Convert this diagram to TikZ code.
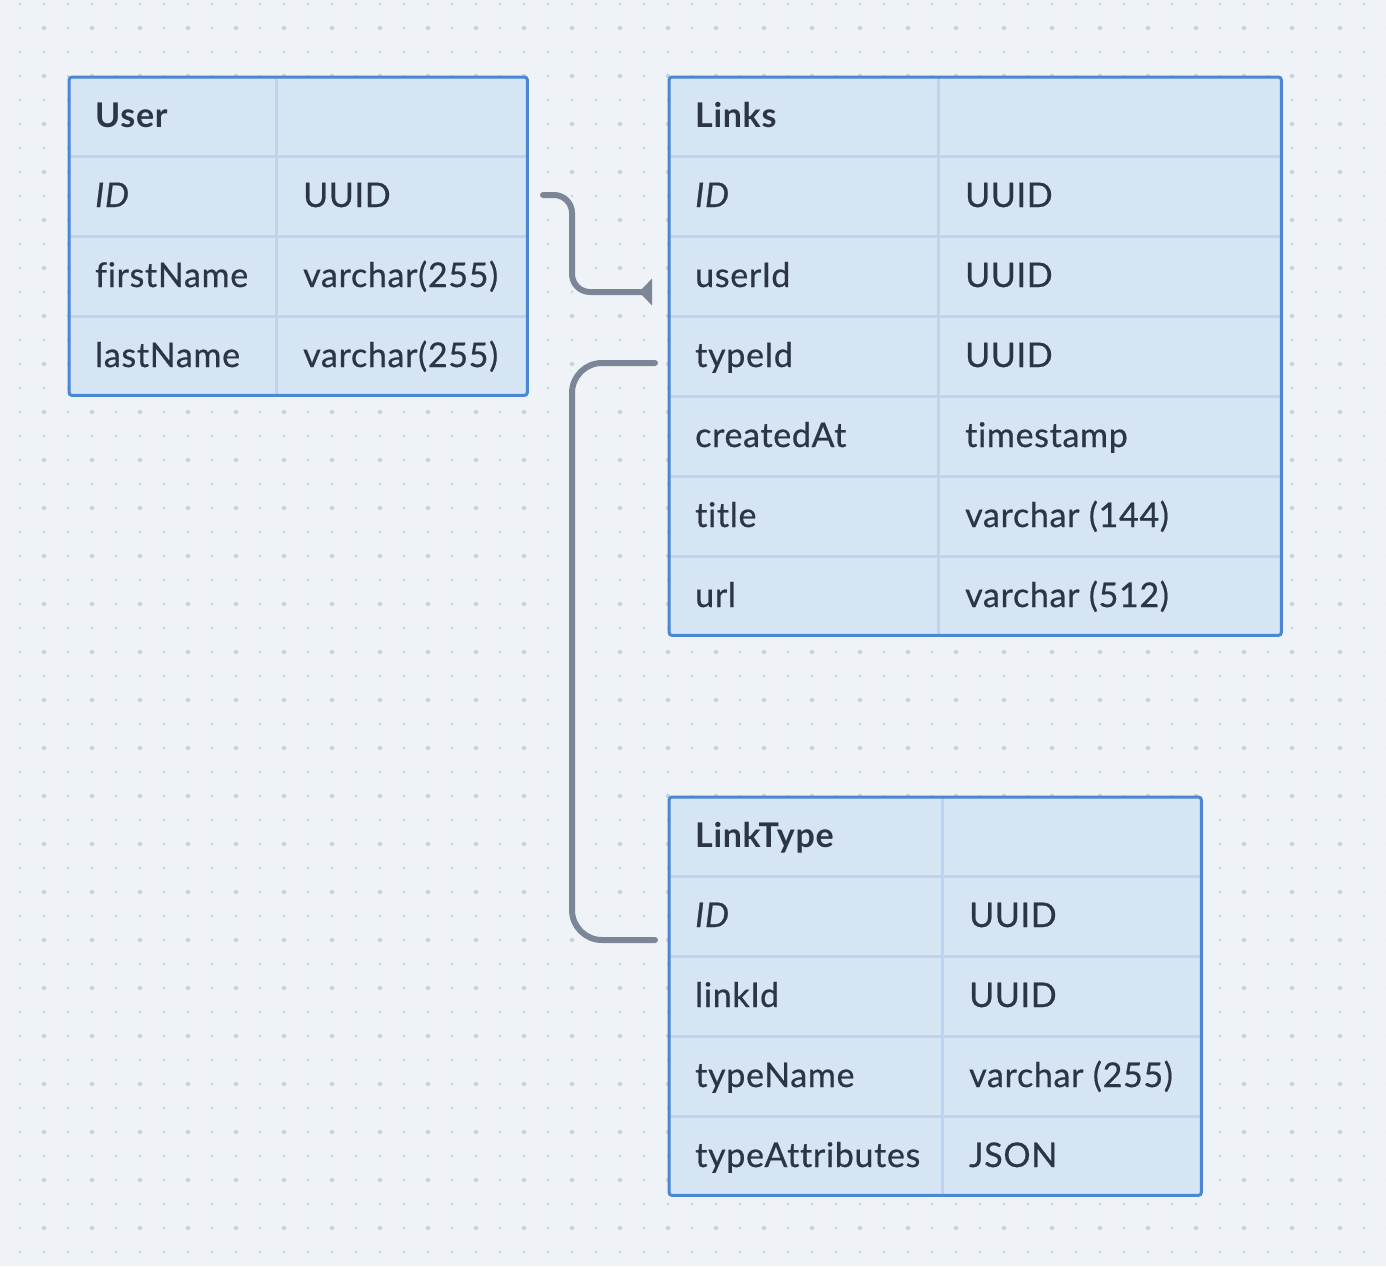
\documentclass[tikz,border=0pt]{standalone}
\usepackage{fontspec}
\setmainfont{Lato}[Ligatures=NoCommon, LetterSpace=2.0,
  UprightFeatures={FakeBold=0.6}, ItalicFeatures={FakeBold=0.6}]
\usetikzlibrary{arrows.meta}
\definecolor{bgc}{HTML}{EFF3F7}
\definecolor{dotc}{HTML}{C9D1DB}
\definecolor{tfill}{HTML}{D6E5F4}
\definecolor{tborder}{HTML}{4A87D5}
\definecolor{tgrid}{HTML}{BCD4EE}
\definecolor{tx}{HTML}{2B3543}
\definecolor{connc}{HTML}{7B8796}
\begin{document}
\begin{tikzpicture}[x=1pt,y=-1pt,
  tablebox/.style={fill=tfill, rounded corners=3pt, inner sep=0pt, anchor=north west},
  border/.style={draw=tborder, line width=3pt, rounded corners=3pt},
  gridline/.style={draw=tgrid, line width=3pt},
  cell/.style={anchor=base west, inner sep=0pt, text=tx, yshift=-11pt, font=\fontsize{34}{40}\selectfont},
  hd/.style={cell, font=\fontsize{34}{40}\selectfont\bfseries},
  it/.style={cell, font=\fontsize{34}{40}\selectfont\itshape},
  conn/.style={draw=connc, line width=6pt, line cap=round, line join=round}]
\fill[bgc] (0,0) rectangle (1386,1266);
\useasboundingbox (0,0) rectangle (1386,1266);
% dot grid
\foreach \i in {0,...,57}{\foreach \j in {0,...,52}{\fill[dotc] ({20+24*\i},{4+24*\j}) circle (1.3);}}
\foreach \i in {0,...,28}{\foreach \j in {0,...,25}{\fill[dotc] ({44+48*\i},{28+48*\j}) circle (2.2);}}

% ---------- User ----------
\node[tablebox, minimum width=458pt, minimum height=318pt] (user) at (69,77) {};
\draw[gridline] (276,78) -- (276,394);
\foreach \y in {156,236,316}{\draw[gridline] (70,\y) -- (526,\y);}
\draw[border] (user.north west) rectangle (user.south east);
\node[hd] (userH) at (95,116) {User};
\node[it] (userID) at (95,196) {ID};
\node[cell] (userIDt) at (303,196) {UUID};
\node[cell] (userFN) at (95,276) {firstName};
\node[cell] (userFNt) at (303,276) {varchar(255)};
\node[cell] (userLN) at (95,356) {lastName};
\node[cell] (userLNt) at (303,356) {varchar(255)};

% ---------- Links ----------
\node[tablebox, minimum width=612pt, minimum height=558pt] (links) at (669,77) {};
\draw[gridline] (938,78) -- (938,634);
\foreach \y in {156,236,316,396,476,556}{\draw[gridline] (670,\y) -- (1280,\y);}
\draw[border] (links.north west) rectangle (links.south east);
\node[hd] (linksH) at (695,116) {Links};
\node[it] (linksID) at (695,196) {ID};
\node[cell] (linksIDt) at (965,196) {UUID};
\node[cell] (linksUser) at (695,276) {userId};
\node[cell] (linksUsert) at (965,276) {UUID};
\node[cell] (linksType) at (695,356) {typeId};
\node[cell] (linksTypet) at (965,356) {UUID};
\node[cell] (linksCA) at (695,436) {createdAt};
\node[cell] (linksCAt) at (965,436) {timestamp};
\node[cell] (linksTi) at (695,516) {title};
\node[cell] (linksTit) at (965,516) {varchar (144)};
\node[cell] (linksUrl) at (695,596) {url};
\node[cell] (linksUrlt) at (965,596) {varchar (512)};

% ---------- LinkType ----------
\node[tablebox, minimum width=532pt, minimum height=398pt] (ltype) at (669,797) {};
\draw[gridline] (942,798) -- (942,1194);
\foreach \y in {876,956,1036,1116}{\draw[gridline] (670,\y) -- (1200,\y);}
\draw[border] (ltype.north west) rectangle (ltype.south east);
\node[hd] (ltH) at (695,836) {LinkType};
\node[it] (ltID) at (695,916) {ID};
\node[cell] (ltIDt) at (969,916) {UUID};
\node[cell] (ltLink) at (695,996) {linkId};
\node[cell] (ltLinkt) at (969,996) {UUID};
\node[cell] (ltName) at (695,1076) {typeName};
\node[cell] (ltNamet) at (969,1076) {varchar (255)};
\node[cell] (ltAttr) at (695,1156) {typeAttributes};
\node[cell] (ltAttrt) at (969,1156) {JSON};

% ---------- connectors ----------
\coordinate (c1s) at (543,195);
\coordinate (c1e) at (652,292);
\draw[conn, rounded corners=18pt, -{Triangle[reversed, length=13pt, width=26pt]}]
  (c1s) -- (572,195) -- (572,292) -- (c1e);
\coordinate (c2s) at (655,363);
\coordinate (c2e) at (655,940);
\draw[conn, rounded corners=30pt] (c2s) -- (572,363) -- (572,940) -- (c2e);
\end{tikzpicture}
\end{document}
